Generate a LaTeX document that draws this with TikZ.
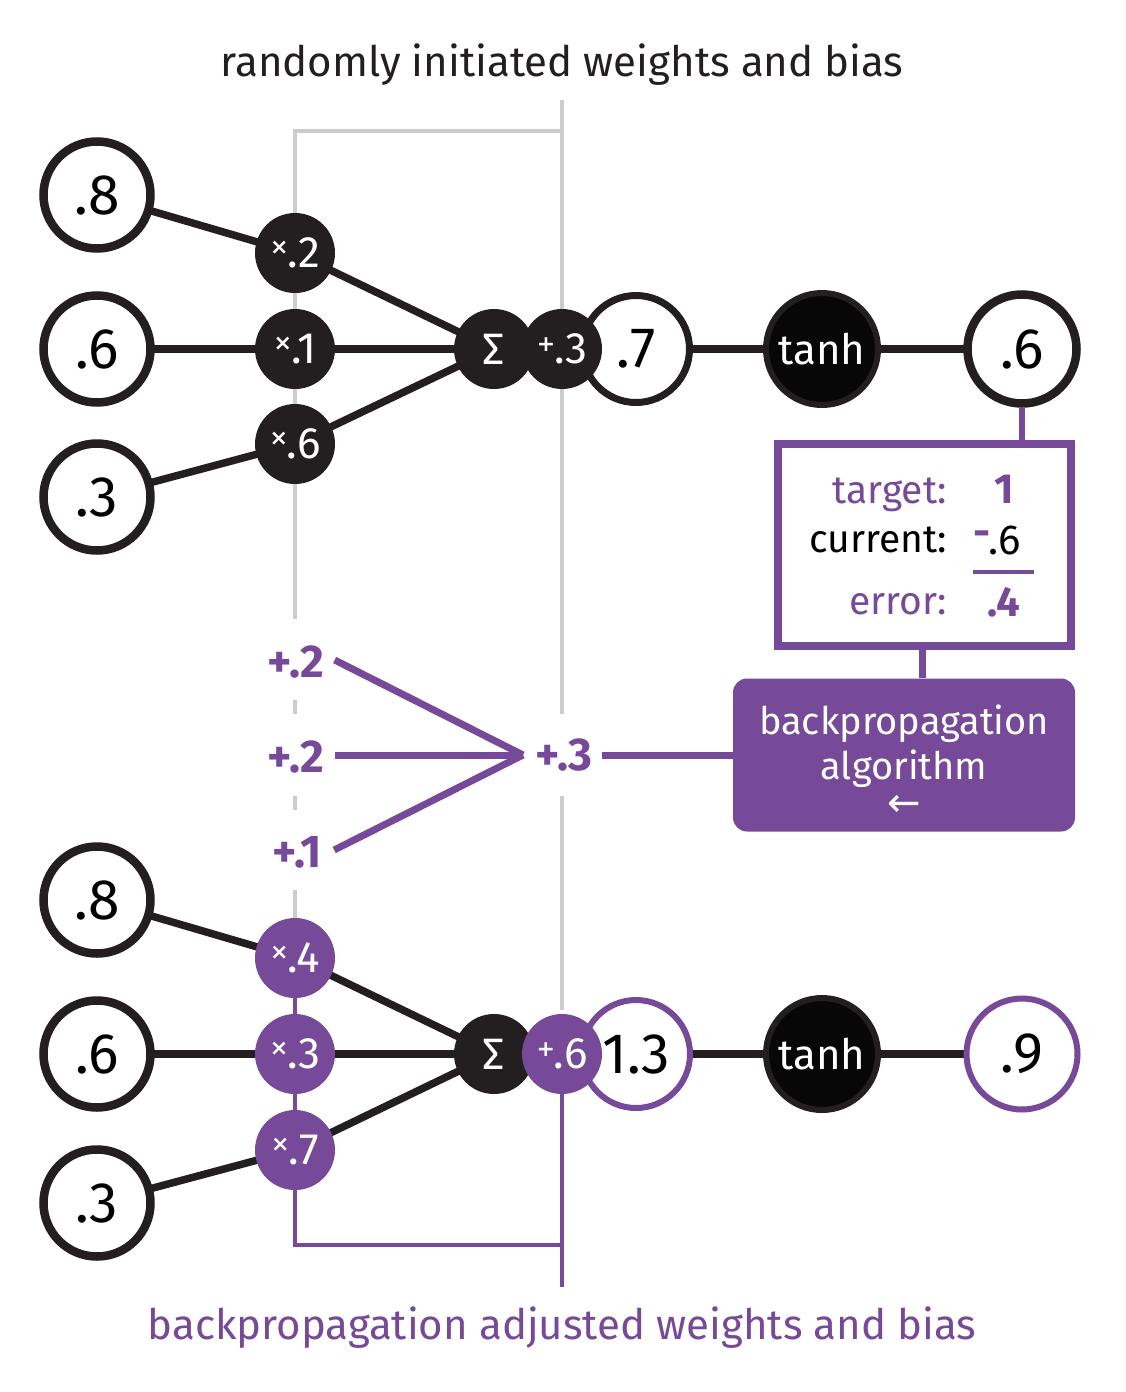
\documentclass[tikz,border=0pt]{standalone}
\usepackage{fontspec}
\setmainfont{Fira Sans}
\newfontfamily\arrowf{DejaVu Sans}
\usetikzlibrary{backgrounds}
\definecolor{pur}{RGB}{119,73,153}
\definecolor{blk}{RGB}{35,31,32}
\definecolor{gry}{RGB}{204,204,204}
\definecolor{tanhf}{RGB}{7,7,7}
\newcommand\wtx[1]{\raisebox{13pt}{\arrowf\fontsize{22}{22}\selectfont\bfseries ×}\kern-1pt#1}
\newcommand\wtp[1]{\raisebox{12pt}{\arrowf\fontsize{22}{22}\selectfont\bfseries +}\kern-1pt#1}
\begin{document}
\begin{tikzpicture}[x=1pt,y=-1pt,
  inp/.style={circle,draw=blk,line width=8.5pt,fill=white,minimum size=107pt,inner sep=0pt,font=\fontsize{57}{57}\selectfont},
  wt/.style={circle,fill=blk,minimum size=80pt,inner sep=0pt,text=white,font=\fontsize{44}{44}\selectfont},
  wtpur/.style={wt,fill=pur},
  sumn/.style={circle,draw=blk,line width=7pt,fill=white,minimum size=107pt,inner sep=0pt,font=\fontsize{57}{57}\selectfont},
  sump/.style={sumn,draw=pur,line width=6pt,minimum size=108pt},
  tanhn/.style={circle,draw=blk,line width=6pt,fill=tanhf,minimum size=112pt,inner sep=0pt,text=white,font=\fontsize{42}{42}\selectfont},
  outn/.style={circle,draw=blk,line width=8.5pt,fill=white,minimum size=109pt,inner sep=0pt,font=\fontsize{57}{57}\selectfont},
  outp/.style={outn,draw=pur,line width=6pt,minimum size=111pt},
  conn/.style={draw=blk,line width=7.5pt},
  gl/.style={draw=gry,line width=4pt},
  pl/.style={draw=pur,line width=7pt},
  pthin/.style={draw=pur,line width=3.5pt},
  ttl/.style={anchor=base,inner sep=0pt,font=\fontsize{42}{42}\selectfont},
  mid/.style={inner sep=0pt,text=pur,font=\fontsize{46}{46}\selectfont\bfseries},
  lab/.style={inner sep=0pt,anchor=base east,font=\fontsize{39}{39}\selectfont},
  val/.style={inner sep=0pt,anchor=base,font=\fontsize{42}{42}\selectfont},
  errbox/.style={draw=pur,line width=8pt,fill=white,minimum width=293pt,minimum height=202pt,inner sep=0pt},
  bpbox/.style={fill=pur,rounded corners=14pt,minimum width=342pt,minimum height=153pt,inner sep=0pt},
]
\useasboundingbox (0,0) rectangle (1125,1392);

% titles
\node[ttl,text=blk] (t1) at (562,76) {randomly initiated weights and bias};
\node[ttl,text=pur] (t2) at (562,1339) {backpropagation adjusted weights and bias};

% top network
\node[inp] (i1) at (97,195) {.8};
\node[inp] (i2) at (97,349) {.6};
\node[inp] (i3) at (97,497) {.3};
\node[wt] (w1) at (295,253) {\wtx{.2}};
\node[wt] (w2) at (295,349) {\wtx{.1}};
\node[wt] (w3) at (295,444) {\wtx{.6}};
\node[sumn] (o1) at (636,349) {.7};
\node[wt] (s1) at (494,349) {Σ};
\node[wt] (b1) at (562,349) {\wtp{.3}};
\node[tanhn] (h1) at (822,349) {tanh};
\node[outn] (y1) at (1022,349) {.6};

% error box
\node[errbox] (eb) at (924.5,545) {};
\node[lab,text=pur] (tg) at (947,503) {target:};
\node[lab,text=black] (cu) at (947,552) {current:};
\node[lab,text=pur] (er) at (947,614) {error:};
\node[val,text=pur] (tv) at (1004,503) {\bfseries 1};
\node[val,text=black] (cuv) at (1005,554) {.6};
\node[inner sep=0pt,anchor=base east,text=pur,font=\fontsize{42}{42}\selectfont\bfseries] (mn) at ([xshift=2pt,yshift=8pt]cuv.base west) {-};
\node[val,text=pur] (erv) at (1004,616) {\bfseries .4};
\draw[draw=pur,line width=4pt] (973,572) -- (1034,572);

% backprop box
\node[bpbox] (bp) at (904,755) {};
\node[anchor=north,inner sep=0pt,align=center,text=white,font=\fontsize{38}{45}\selectfont] (bpt) at (904,705) {backpropagation\\algorithm\\[-8pt]{\arrowf\fontsize{40}{40}\selectfont ←}};

% middle
\node[mid] (m1) at (296,662) {+.2};
\node[mid] (m2) at (296,757) {+.2};
\node[mid] (m3) at (297,852) {+.1};
\coordinate (cvg) at (523,755);
\node[mid] (mb) at (564,755) {+.3};

% bottom network
\node[inp] (i4) at (97,900) {.8};
\node[inp] (i5) at (97,1054) {.6};
\node[inp] (i6) at (97,1203) {.3};
\node[wtpur] (w4) at (295,958) {\wtx{.4}};
\node[wtpur] (w5) at (295,1054) {\wtx{.3}};
\node[wtpur] (w6) at (295,1150) {\wtx{.7}};
\node[sump] (o2) at (636,1054) {1.3};
\node[wt] (s2) at (494,1054) {Σ};
\node[wtpur] (b2) at (562,1054) {\wtp{.6}};
\node[tanhn] (h2) at (822,1054) {tanh};
\node[outp] (y2) at (1022,1054) {.9};

\coordinate (gt) at (562,100);
\coordinate (gb1) at (562,714);
\coordinate (gb2) at (562,796);
\coordinate (gb3) at (562,1010);
\coordinate (pb) at (295,1245);
\coordinate (pe) at (562,1287);

\begin{scope}[on background layer]
  \fill[white] (0,0) rectangle (1125,1392);
  % gray guides
  \draw[gl] (gt) -- (gb1);
  \draw[gl] (gb2) -- (gb3);
  \draw[gl] (295,619) -- (w1.center |- 0,131) -- (b1.center |- 0,131);
  \draw[gl] (295,700) -- (295,714);
  \draw[gl] (295,796) -- (295,810);
  \draw[gl] (295,890) -- (w4.center);
  % purple bracket
  \draw[pthin] (w4.center) -- (pb) -- (pb -| pe);
  \draw[pthin] (b2.center) -- (pe);
  % connectors top
  \draw[conn] (i1.center) -- (w1.center) -- (s1.center);
  \draw[conn] (i2.center) -- (w2.center) -- (s1.center);
  \draw[conn] (i3.center) -- (w3.center) -- (s1.center);
  \draw[conn] (o1.center) -- (h1.center) -- (y1.center);
  % connectors bottom
  \draw[conn] (i4.center) -- (w4.center) -- (s2.center);
  \draw[conn] (i5.center) -- (w5.center) -- (s2.center);
  \draw[conn] (i6.center) -- (w6.center) -- (s2.center);
  \draw[conn] (o2.center) -- (h2.center) -- (y2.center);
  % purple links
  \draw[draw=pur,line width=6pt] (y1.south) -- (y1.south |- eb.north);
  \draw[draw=pur,line width=7pt] ([xshift=-2.5pt]eb.south) -- ([xshift=-2.5pt]eb.south |- bp.north);
\end{scope}

% middle lines
\draw[pl] ([xshift=10pt,yshift=2pt]m1.east) -- (cvg);
\draw[pl] ([xshift=10pt]m2.east |- cvg) -- (cvg);
\draw[pl] ([xshift=12pt,yshift=2pt]m3.east) -- (cvg);
\draw[pl] ([xshift=9pt]mb.east) -- (bp.west);
\end{tikzpicture}
\end{document}
